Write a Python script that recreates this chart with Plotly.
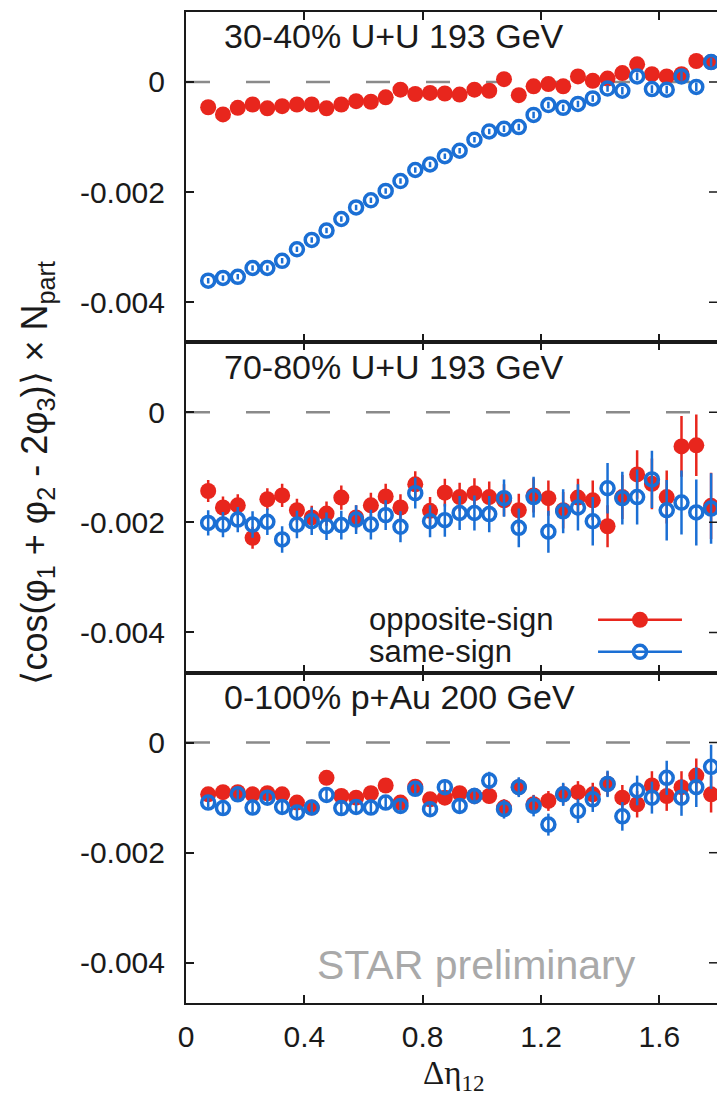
import plotly.graph_objects as go
from plotly.subplots import make_subplots

# pseudorapidity gap bin centres
deta = [0.075, 0.125, 0.175, 0.225, 0.275, 0.325, 0.375, 0.425, 0.475, 0.525,
        0.575, 0.625, 0.675, 0.725, 0.775, 0.825, 0.875, 0.925, 0.975, 1.025,
        1.075, 1.125, 1.175, 1.225, 1.275, 1.325, 1.375, 1.425, 1.475, 1.525,
        1.575, 1.625, 1.675, 1.725, 1.775]

# 30-40% U+U 193 GeV
uu3040_os = [-0.00046, -0.00059, -0.00047, -0.00041, -0.00048, -0.00044, -0.00041, -0.00041,
             -0.00048, -0.00041, -0.00035, -0.00036, -0.00028, -0.00014, -0.00022, -0.00020,
             -0.00021, -0.00023, -0.00014, -0.00016, 0.00005, -0.00024, -0.00008, -0.00004,
             -0.00008, 0.00010, 0.00002, 0.00006, 0.00016, 0.00032, 0.00014, 0.00010,
             0.00014, 0.00038, 0.00036]
uu3040_os_err = [0.00004, 0.00004, 0.00004, 0.00004, 0.00004, 0.00004, 0.00004, 0.00004,
                 0.00004, 0.00004, 0.00004, 0.00004, 0.00004, 0.00004, 0.00004, 0.00004,
                 0.00004, 0.00004, 0.00004, 0.00004, 0.00005, 0.00005, 0.00005, 0.00005,
                 0.00005, 0.00005, 0.00005, 0.00005, 0.00006, 0.00006, 0.00006, 0.00006,
                 0.00006, 0.00007, 0.00007]
uu3040_ss = [-0.00361, -0.00356, -0.00354, -0.00338, -0.00338, -0.00325, -0.00304, -0.00287,
             -0.00270, -0.00249, -0.00228, -0.00215, -0.00198, -0.00180, -0.00160, -0.00150,
             -0.00135, -0.00125, -0.00105, -0.00090, -0.00085, -0.00082, -0.00060, -0.00042,
             -0.00047, -0.00040, -0.00030, -0.00012, -0.00016, 0.00010, -0.00013, -0.00014,
             0.00010, -0.00009, 0.00036]
uu3040_ss_err = [0.00005, 0.00005, 0.00005, 0.00005, 0.00005, 0.00005, 0.00005, 0.00005,
                 0.00005, 0.00005, 0.00005, 0.00005, 0.00005, 0.00005, 0.00005, 0.00005,
                 0.00005, 0.00005, 0.00005, 0.00005, 0.00006, 0.00006, 0.00006, 0.00006,
                 0.00006, 0.00006, 0.00006, 0.00006, 0.00007, 0.00007, 0.00007, 0.00007,
                 0.00008, 0.00008, 0.00008]

# 70-80% U+U 193 GeV
uu7080_os = [-0.00143, -0.00173, -0.00169, -0.00228, -0.00158, -0.00151, -0.00178, -0.00191,
             -0.00184, -0.00155, -0.00191, -0.00169, -0.00153, -0.00173, -0.00131, -0.00179,
             -0.00146, -0.00154, -0.00147, -0.00154, -0.00160, -0.00178, -0.00151, -0.00156,
             -0.00178, -0.00155, -0.00160, -0.00207, -0.00154, -0.00113, -0.00130, -0.00154,
             -0.00062, -0.00060, -0.00170]
uu7080_os_err = [0.00020, 0.00020, 0.00020, 0.00020, 0.00020, 0.00021, 0.00021, 0.00021,
                 0.00022, 0.00022, 0.00022, 0.00023, 0.00023, 0.00024, 0.00024, 0.00025,
                 0.00025, 0.00026, 0.00027, 0.00028, 0.00029, 0.00030, 0.00031, 0.00032,
                 0.00033, 0.00034, 0.00036, 0.00038, 0.00040, 0.00044, 0.00046, 0.00048,
                 0.00055, 0.00056, 0.00060]
uu7080_ss = [-0.00201, -0.00204, -0.00195, -0.00204, -0.00199, -0.00231, -0.00204, -0.00198,
             -0.00207, -0.00205, -0.00195, -0.00204, -0.00187, -0.00208, -0.00147, -0.00198,
             -0.00196, -0.00183, -0.00183, -0.00185, -0.00156, -0.00210, -0.00154, -0.00217,
             -0.00180, -0.00173, -0.00198, -0.00138, -0.00156, -0.00154, -0.00122, -0.00178,
             -0.00164, -0.00182, -0.00175]
uu7080_ss_err = [0.00023, 0.00023, 0.00023, 0.00024, 0.00024, 0.00024, 0.00025, 0.00025,
                 0.00025, 0.00026, 0.00026, 0.00027, 0.00027, 0.00028, 0.00028, 0.00029,
                 0.00030, 0.00031, 0.00032, 0.00033, 0.00034, 0.00035, 0.00037, 0.00038,
                 0.00040, 0.00042, 0.00044, 0.00046, 0.00048, 0.00050, 0.00052, 0.00055,
                 0.00058, 0.00060, 0.00064]

# 0-100% p+Au 200 GeV
pau_os = [-0.00094, -0.00090, -0.00090, -0.00094, -0.00092, -0.00094, -0.00109, -0.00118,
          -0.00064, -0.00097, -0.00100, -0.00092, -0.00078, -0.00109, -0.00080, -0.00103,
          -0.00100, -0.00092, -0.00097, -0.00097, -0.00118, -0.00081, -0.00112, -0.00106,
          -0.00094, -0.00090, -0.00094, -0.00075, -0.00100, -0.00112, -0.00078, -0.00097,
          -0.00081, -0.00060, -0.00094]
pau_os_err = [0.00008, 0.00008, 0.00008, 0.00008, 0.00009, 0.00009, 0.00009, 0.00009,
              0.00010, 0.00010, 0.00010, 0.00011, 0.00011, 0.00011, 0.00012, 0.00012,
              0.00013, 0.00013, 0.00014, 0.00014, 0.00015, 0.00016, 0.00017, 0.00018,
              0.00019, 0.00020, 0.00021, 0.00022, 0.00023, 0.00024, 0.00026, 0.00027,
              0.00029, 0.00031, 0.00033]
pau_ss = [-0.00109, -0.00119, -0.00094, -0.00118, -0.00100, -0.00117, -0.00127, -0.00118,
          -0.00095, -0.00119, -0.00117, -0.00118, -0.00109, -0.00115, -0.00084, -0.00121,
          -0.00081, -0.00115, -0.00097, -0.00069, -0.00121, -0.00081, -0.00115, -0.00149,
          -0.00094, -0.00124, -0.00103, -0.00075, -0.00134, -0.00087, -0.00100, -0.00064,
          -0.00100, -0.00081, -0.00044]
pau_ss_err = [0.00009, 0.00009, 0.00009, 0.00009, 0.00010, 0.00010, 0.00010, 0.00010,
              0.00011, 0.00011, 0.00011, 0.00012, 0.00012, 0.00012, 0.00013, 0.00013,
              0.00014, 0.00014, 0.00015, 0.00016, 0.00017, 0.00018, 0.00019, 0.00020,
              0.00021, 0.00022, 0.00023, 0.00024, 0.00026, 0.00027, 0.00029, 0.00031,
              0.00033, 0.00036, 0.00040]

panel_titles = ["30-40% U+U 193 GeV", "70-80% U+U 193 GeV", "0-100% p+Au 200 GeV"]
x_ticks = [0, 0.4, 0.8, 1.2, 1.6]
x_ticktext = ["0", "0.4", "0.8", "1.2", "1.6"]
y_ticks = [0, -0.002, -0.004]
y_ticktext = ["0", "-0.002", "-0.004"]

RED = "#e8261d"
BLUE = "#1b6fd4"
INK = "#1a1a1a"
FONT = "Liberation Sans"

panels = [
    (uu3040_os, uu3040_os_err, uu3040_ss, uu3040_ss_err),
    (uu7080_os, uu7080_os_err, uu7080_ss, uu7080_ss_err),
    (pau_os, pau_os_err, pau_ss, pau_ss_err),
]

fig = make_subplots(rows=3, cols=1, vertical_spacing=0)

for row, (os_v, os_e, ss_v, ss_e) in enumerate(panels, start=1):
    fig.add_trace(go.Scatter(
        x=deta, y=os_v, mode="markers", name="opposite-sign",
        error_y=dict(type="data", array=os_e, color=RED, thickness=2.5, width=0),
        marker=dict(symbol="circle", size=16, color=RED),
        showlegend=False), row=row, col=1)
    fig.add_trace(go.Scatter(
        x=deta, y=ss_v, mode="markers", name="same-sign",
        error_y=dict(type="data", array=ss_e, color=BLUE, thickness=2.5, width=0),
        marker=dict(symbol="circle-open", size=13, color=BLUE, line=dict(width=3.5, color=BLUE)),
        showlegend=False), row=row, col=1)

domains = [[2 / 3, 1.0], [1 / 3, 2 / 3], [0.0, 1 / 3]]
for row in range(1, 4):
    fig.update_xaxes(
        row=row, col=1, range=[0, 1.795], tickvals=x_ticks, ticktext=x_ticktext,
        ticks="inside", ticklen=8, tickwidth=1.5, tickcolor=INK,
        showline=True, linewidth=2, linecolor=INK, mirror="ticks",
        showgrid=False, zeroline=False, showticklabels=(row == 3),
        tickfont=dict(family=FONT, size=30, color=INK), ticklabelstandoff=6)
    fig.update_yaxes(
        row=row, col=1, range=[-0.00473, 0.00127], domain=domains[row - 1],
        tickvals=y_ticks, ticktext=y_ticktext,
        ticks="inside", ticklen=8, tickwidth=1.5, tickcolor=INK,
        showline=True, linewidth=2, linecolor=INK, mirror=False,
        showgrid=False, zeroline=False,
        tickfont=dict(family=FONT, size=30, color=INK), ticklabelstandoff=13)

shapes = []
annotations = []
for row in range(1, 4):
    xs = "x" if row == 1 else f"x{row}"
    ys = "y" if row == 1 else f"y{row}"
    # dashed zero reference
    shapes.append(dict(type="line", xref=f"{xs} domain", yref=ys, x0=0, x1=1, y0=0, y1=0,
                       line=dict(color="#8a8a8a", width=2.5, dash="24px,36px"), layer="below"))
    # right-hand ticks (frame edge lies just outside the canvas)
    for v in y_ticks:
        shapes.append(dict(type="line", xref=f"{xs} domain", yref=ys, x0=1 - 8 / 531, x1=1,
                           y0=v, y1=v, line=dict(color=INK, width=1.5)))
    annotations.append(dict(text=panel_titles[row - 1], xref=f"{xs} domain", yref=f"{ys} domain",
                            x=0.067, y=0.926, xanchor="left", yanchor="middle", showarrow=False,
                            font=dict(family=FONT, size=34, color=INK)))

# key inside the middle panel
key_rows = [("opposite-sign", 0.160, RED, True), ("same-sign", 0.063, BLUE, False)]
for label, yk, col, filled in key_rows:
    annotations.append(dict(text=label, xref="x2 domain", yref="y2 domain", x=0.341, y=yk,
                            xanchor="left", yanchor="middle", showarrow=False,
                            font=dict(family=FONT, size=31, color=INK)))
    shapes.append(dict(type="line", xref="x2 domain", yref="y2 domain", x0=0.776, x1=0.934,
                       y0=yk, y1=yk, line=dict(color=col, width=2.5)))
    r = 8 if filled else 6.5
    shapes.append(dict(type="circle", xref="x2 domain", yref="y2 domain",
                       xsizemode="pixel", ysizemode="pixel", xanchor=0.855, yanchor=yk,
                       x0=-r, x1=r, y0=-r, y1=r,
                       fillcolor=col if filled else "rgba(0,0,0,0)",
                       line=dict(color=col, width=0 if filled else 3.5)))

annotations.append(dict(text="STAR preliminary", xref="x3 domain", yref="y3 domain",
                        x=0.548, y=0.115, xanchor="center", yanchor="middle", showarrow=False,
                        font=dict(family=FONT, size=41, color="#a9a9a9")))

annotations.append(dict(text="Δη<sub>12</sub>", xref="paper", yref="paper",
                        x=0.505, y=-0.0955, xanchor="center", yanchor="bottom", showarrow=False,
                        font=dict(family="Liberation Serif", size=33, color=INK)))

annotations.append(dict(
    text="⟨cos(φ<sub>1</sub> + φ<sub>2</sub> - 2φ<sub>3</sub>)⟩ × N<sub>part</sub>",
    xref="paper", yref="paper", x=-0.281, y=0.535, xanchor="center", yanchor="middle",
    textangle=-90, showarrow=False, font=dict(family=FONT, size=36, color=INK)))

fig.update_layout(
    width=717, height=1099,
    margin=dict(l=186, r=0, t=12, b=96),
    paper_bgcolor="white", plot_bgcolor="white",
    shapes=shapes, annotations=annotations, showlegend=False)

fig.write_html("out.html")
